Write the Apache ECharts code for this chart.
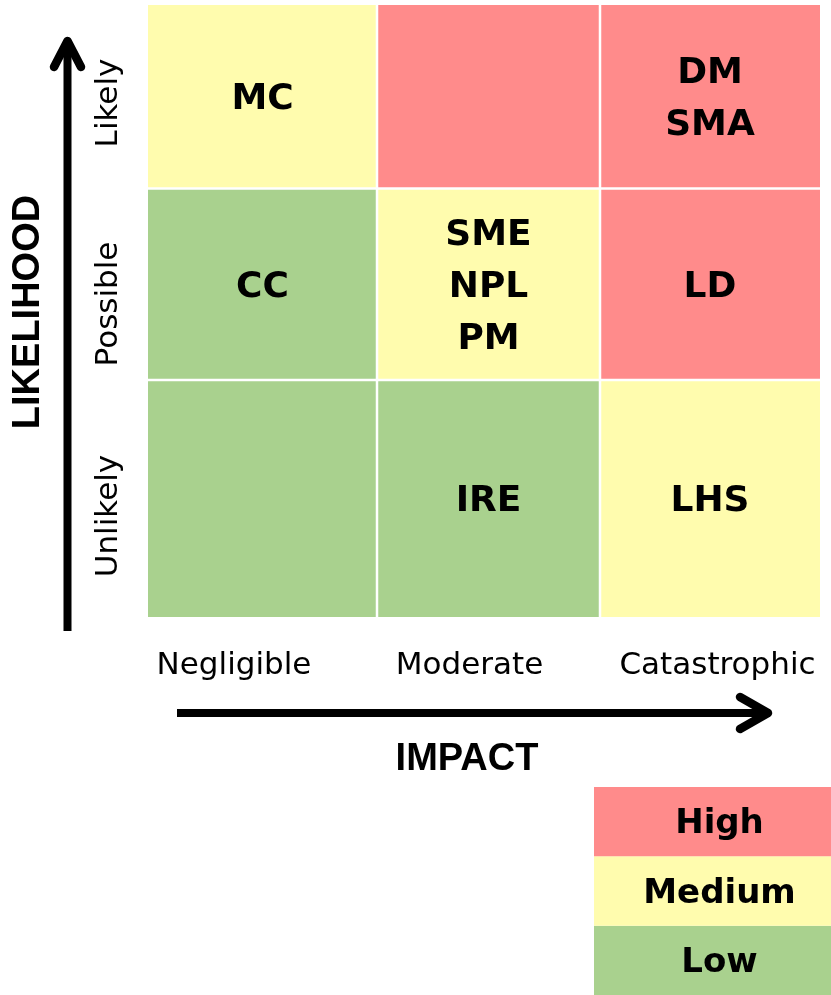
<!DOCTYPE html>
<html>
<head>
<meta charset="utf-8">
<style>
  html, body { margin: 0; padding: 0; background: #fff; }
  #main { width: 831px; height: 995px; }
</style>
<script src="https://cdn.jsdelivr.net/npm/echarts@6/dist/echarts.min.js"></script>
</head>
<body>
<div id="main"></div>
<script>
// axes of the matrix (bottom -> top for likelihood)
var impactLevels = ['Negligible', 'Moderate', 'Catastrophic'];
var likelihoodLevels = ['Unlikely', 'Possible', 'Likely'];
var ratingLevels = ['Low', 'Medium', 'High'];

// rating of each cell, one row per likelihood level, across impact
var riskUnlikely = ['Low', 'Low', 'Medium'];
var riskPossible = ['Low', 'Medium', 'High'];
var riskLikely = ['Medium', 'High', 'High'];

// risk codes placed in each cell
var codesUnlikely = [[], ['IRE'], ['LHS']];
var codesPossible = [['CC'], ['SME', 'NPL', 'PM'], ['LD']];
var codesLikely = [['MC'], [], ['DM', 'SMA']];

var ratingColor = { High: '#FF8B8B', Medium: '#FFFCAE', Low: '#A9D18E' };

// layout: columns / rows are not all the same size in the original
var colWidths = [229, 223, 220];
var rowHeights = [237, 191.5, 183.5]; // Unlikely, Possible, Likely
var GAP = 2.5;

var riskRows = [riskUnlikely, riskPossible, riskLikely];
var codeRows = [codesUnlikely, codesPossible, codesLikely];
var cells = [];
riskRows.forEach(function (row, ri) {
  row.forEach(function (rating, ci) {
    cells.push({ value: [ci, ri], rating: rating, codes: codeRows[ri][ci] });
  });
});

function sumBefore(arr, n) {
  var s = 0;
  for (var i = 0; i < n; i++) s += arr[i];
  return s;
}
function sumAll(arr) { return sumBefore(arr, arr.length); }

function renderCell(params, api) {
  var ci = api.value(0), ri = api.value(1);
  var cell = cells[params.dataIndex];
  var x0 = sumBefore(colWidths, ci), x1 = x0 + colWidths[ci];
  var y0 = sumBefore(rowHeights, ri), y1 = y0 + rowHeights[ri];
  var tl = api.coord([x0, y1]), br = api.coord([x1, y0]);
  var h = GAP / 2;
  var left = tl[0] + (ci > 0 ? h : 0);
  var right = br[0] - (ci < colWidths.length - 1 ? h : 0);
  var top = tl[1] + (ri < rowHeights.length - 1 ? h : 0);
  var bottom = br[1] - (ri > 0 ? h : 0);
  var cx = (tl[0] + br[0]) / 2, cy = (tl[1] + br[1]) / 2 + 3;
  return {
    type: 'group',
    children: [{
      type: 'rect',
      shape: { x: left, y: top, width: right - left, height: bottom - top },
      style: { fill: ratingColor[cell.rating] }
    }, {
      type: 'text',
      x: cx,
      y: cy,
      style: {
        text: cell.codes.join('\n'),
        font: 'bold 36px "DejaVu Sans"',
        lineHeight: 52,
        fill: '#000',
        align: 'center',
        verticalAlign: 'middle'
      }
    }]
  };
}

function renderLegend(params, api) {
  var idx = api.value(1);
  var l = api.coord([0, idx]);
  var r = api.coord([1, idx]);
  var bh = api.size([0, 1])[1];
  return {
    type: 'group',
    children: [{
      type: 'rect',
      shape: { x: l[0], y: l[1] - bh / 2, width: r[0] - l[0], height: bh },
      style: { fill: ratingColor[ratingLevels[idx]] }
    }, {
      type: 'text',
      x: (l[0] + r[0]) / 2 + 7,
      y: l[1] + 3,
      style: {
        text: ratingLevels[idx],
        font: 'bold 34px "DejaVu Sans"',
        fill: '#000',
        align: 'center',
        verticalAlign: 'middle'
      }
    }]
  };
}

// axis texts
var impactLabelX = [234, 469.5, 717.5];
var likelihoodLabelY = [516, 304, 103];
var graphics = [];
impactLevels.forEach(function (name, i) {
  graphics.push({
    type: 'text', x: impactLabelX[i], y: 666,
    style: { text: name, font: '31px "DejaVu Sans"', fill: '#000', align: 'center', verticalAlign: 'middle' }
  });
});
likelihoodLevels.forEach(function (name, i) {
  graphics.push({
    type: 'text', x: 109, y: likelihoodLabelY[i], rotation: Math.PI / 2,
    style: { text: name, font: '31px "DejaVu Sans"', fill: '#000', align: 'center', verticalAlign: 'middle' }
  });
});
graphics.push({
  type: 'text', x: 29, y: 312, rotation: Math.PI / 2,
  style: { text: 'LIKELIHOOD', font: 'bold 38px "Liberation Sans"', fill: '#000', align: 'center', verticalAlign: 'middle' }
});
graphics.push({
  type: 'text', x: 467, y: 760,
  style: { text: 'IMPACT', font: 'bold 38px "Liberation Sans"', fill: '#000', align: 'center', verticalAlign: 'middle' }
});
// arrows
graphics.push({
  type: 'line', shape: { x1: 67.5, y1: 631, x2: 67.5, y2: 42 },
  style: { stroke: '#000', lineWidth: 8, lineCap: 'butt' }
});
graphics.push({
  type: 'polyline', shape: { points: [[54, 67], [67.5, 41], [81, 67]] },
  style: { stroke: '#000', lineWidth: 8.5, lineCap: 'round', lineJoin: 'round', fill: null }
});
graphics.push({
  type: 'line', shape: { x1: 177, y1: 713, x2: 766, y2: 713 },
  style: { stroke: '#000', lineWidth: 8, lineCap: 'butt' }
});
graphics.push({
  type: 'polyline', shape: { points: [[740, 697], [768, 713], [740, 729]] },
  style: { stroke: '#000', lineWidth: 8.5, lineCap: 'round', lineJoin: 'round', fill: null }
});

var myChart = echarts.init(document.getElementById('main'));
myChart.setOption({
  animation: false,
  backgroundColor: '#fff',
  grid: [
    { left: 148, top: 5, width: sumAll(colWidths), height: sumAll(rowHeights) },
    { left: 594, top: 787, right: 0, bottom: 0 }
  ],
  xAxis: [
    { gridIndex: 0, type: 'value', min: 0, max: sumAll(colWidths), show: false },
    { gridIndex: 1, type: 'value', min: 0, max: 1, show: false }
  ],
  yAxis: [
    { gridIndex: 0, type: 'value', min: 0, max: sumAll(rowHeights), show: false },
    { gridIndex: 1, type: 'category', data: ratingLevels, show: false }
  ],
  graphic: graphics,
  series: [{
    type: 'custom',
    xAxisIndex: 0,
    yAxisIndex: 0,
    renderItem: renderCell,
    data: cells,
    clip: false
  }, {
    type: 'custom',
    xAxisIndex: 1,
    yAxisIndex: 1,
    renderItem: renderLegend,
    data: ratingLevels.map(function (r, i) { return [1, i]; }),
    clip: false
  }]
});
</script>
</body>
</html>
